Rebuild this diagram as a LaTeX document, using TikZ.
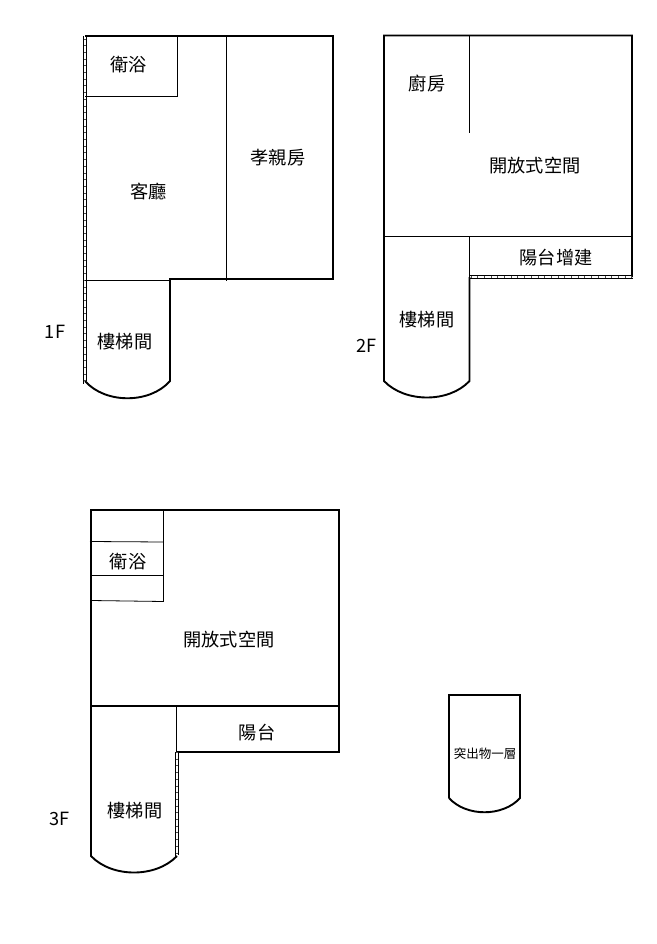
\documentclass[tikz,border=0pt]{standalone}
\usepackage{fontspec}
\setmainfont{Noto Sans CJK TC}
\usepackage{xcolor}
\usepackage{tikz}
\tikzset{
  outer/.style={draw=black, line width=1.9pt, line join=miter},
  inner/.style={draw=black, line width=0.8pt},
  wallside/.style={draw=black, line width=0.8pt},
  walltick/.style={draw=black!70, line width=2pt, dash pattern=on 0.7pt off 6pt},
  lab/.style={font=\fontsize{18.2}{22}\selectfont, inner sep=0pt},
  labs/.style={font=\fontsize{12.5}{15}\selectfont, inner sep=0pt}
}

\begin{document}
\begin{tikzpicture}[x=1pt,y=-1pt]
  \useasboundingbox (0,0) rectangle (656,944);

  % 1F
  \coordinate (a1) at (85,36);
  \coordinate (a2) at (333,36);
  \coordinate (a3) at (333,279);
  \coordinate (a4) at (170,279);
  \coordinate (a5) at (170,381);
  \coordinate (a6) at (85,381);
  \draw[outer] (a1)--(a2)--(a3)--(a4)--(a5) .. controls (150,404) and (105,404) .. (a6);
  \draw[wallside] (83.6,36)--(83.6,384);
  \draw[wallside] (86,36)--(86,381);
  \draw[walltick] (84.8,381)--(84.8,36);
  \draw[inner] (85,96)--(177,96)--(177,36);
  \draw[inner] (226.5,36)--(226.5,281);
  \draw[inner] (85,280)--(170,280);
  \node[lab] (bath1) at (128.5,65) {衛浴};
  \node[lab] (live1) at (148.5,192) {客廳};
  \node[lab] (elder1) at (278,158) {孝親房};
  \node[lab] (stair1) at (125,342) {樓梯間};
  \node[lab] (floor1) at (55,332) {1F};

  % 2F
  \coordinate (b1) at (384,35.5);
  \coordinate (b2) at (632,35.5);
  \coordinate (b3) at (632,277);
  \coordinate (b4) at (469.5,277);
  \coordinate (b5) at (469.5,381);
  \coordinate (b6) at (384,381);
  \draw[outer] (b4)--(b5) .. controls (449,403) and (405,403) .. (b6)--(b1)--(b2)--(b3);
  \draw[wallside] (469,275.8)--(632.5,275.8);
  \draw[wallside] (469,278.2)--(632.5,278.2);
  \draw[walltick] (632,277)--(469.5,277);
  \draw[inner] (384,236.5)--(632,236.5);
  \draw[inner] (469.5,36)--(469.5,133);
  \draw[inner] (469.5,236.5)--(469.5,277);
  \node[lab] (kitchen2) at (427,83) {廚房};
  \node[lab] (open2) at (535,166) {開放式空間};
  \node[lab] (balc2) at (556,258) {陽台增建};
  \node[lab] (stair2) at (427,320) {樓梯間};
  \node[lab] (floor2) at (366.5,346) {2F};

  % 3F
  \coordinate (c1) at (91,510);
  \coordinate (c2) at (339,510);
  \coordinate (c3) at (339,752);
  \coordinate (c4) at (177,752);
  \coordinate (c5) at (177,856);
  \coordinate (c6) at (91,856);
  \draw[outer] (c4)--(c3)--(c2)--(c1)--(c6) .. controls (112,878) and (156,878) .. (c5);
  \draw[wallside] (175.8,752)--(175.8,857);
  \draw[wallside] (178.2,752)--(178.2,855);
  \draw[walltick] (177,752)--(177,856);
  \draw[outer] (91,706)--(339,706);
  \draw[inner] (176.5,707)--(176.5,752);
  \draw[inner] (163.5,510)--(163.5,601.5)--(91,600.5);
  \draw[inner] (90,541.5)--(163.5,542);
  \draw[inner] (90,575.5)--(163.5,575.5);
  \node[lab] (bath3) at (128,562) {衛浴};
  \node[lab] (open3) at (229,640) {開放式空間};
  \node[lab] (balc3) at (257,733) {陽台};
  \node[lab] (stair3) at (135,811) {樓梯間};
  \node[lab] (floor3) at (59.5,819) {3F};

  % roof
  \coordinate (d1) at (449,695);
  \coordinate (d2) at (520,695);
  \coordinate (d3) at (520,798);
  \coordinate (d4) at (449,798);
  \draw[outer] (d4)--(d1)--(d2)--(d3) .. controls (503,817) and (466,817) .. (d4);
  \node[labs] (roof) at (485,754) {突出物一層};
\end{tikzpicture}
\end{document}
